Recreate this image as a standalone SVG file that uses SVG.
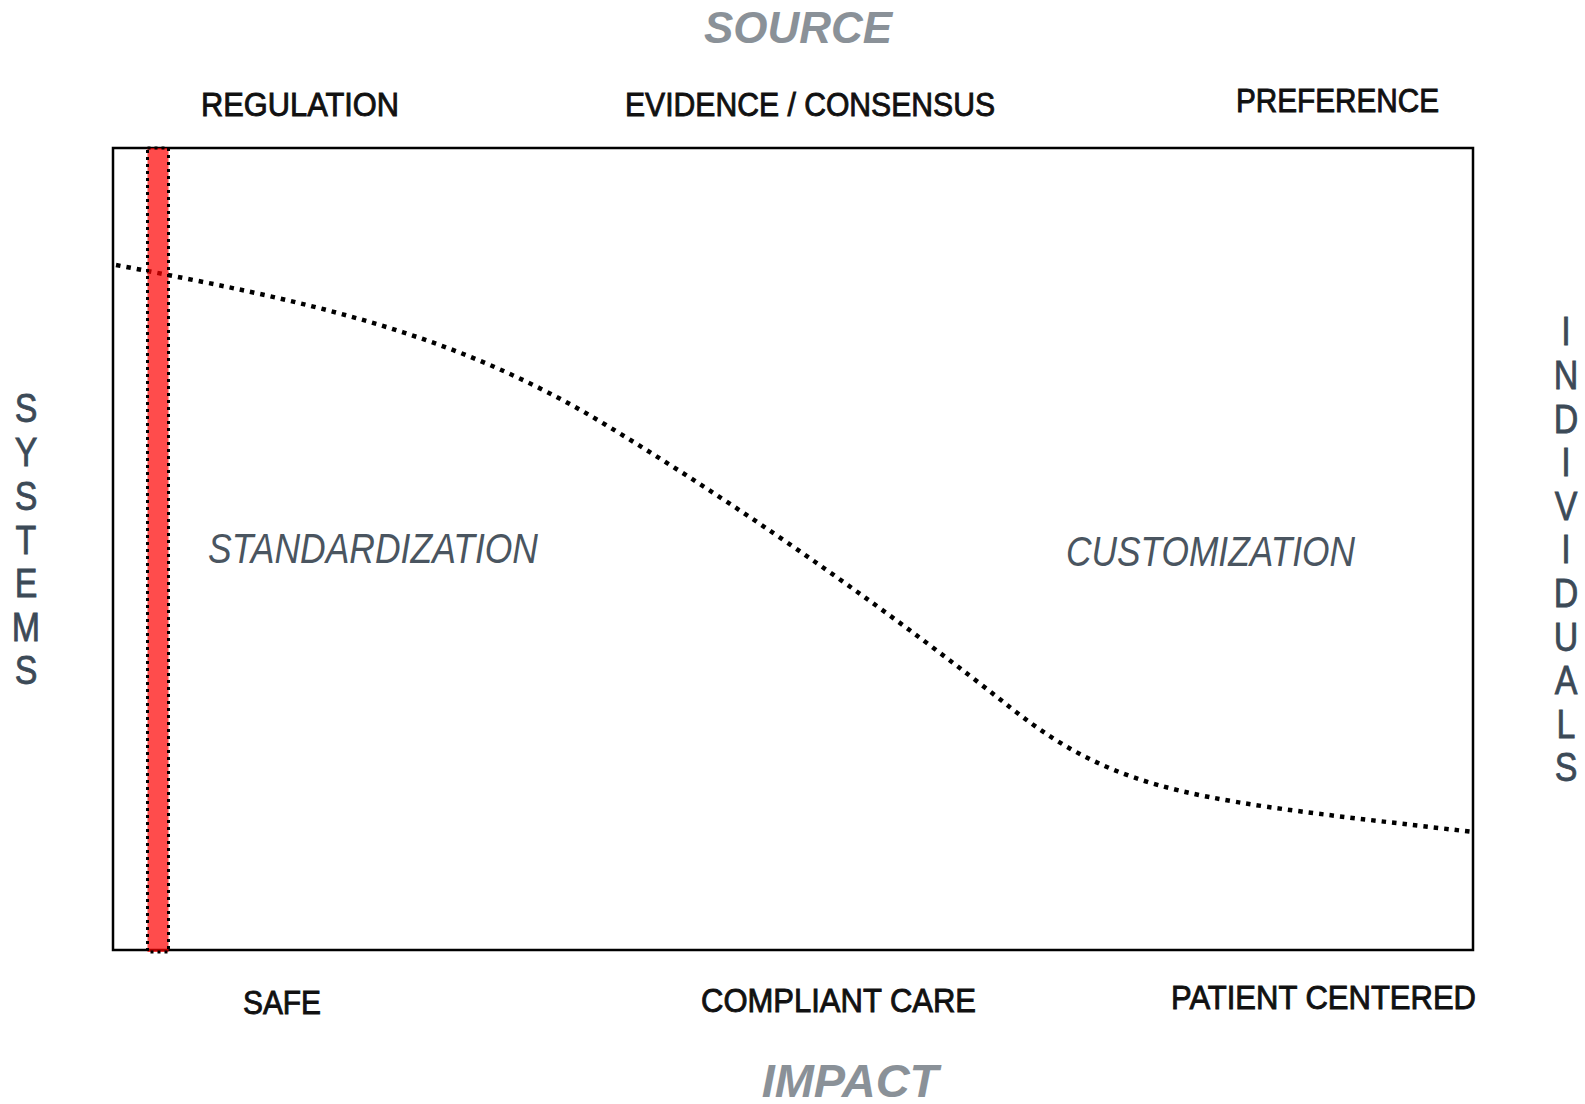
<svg xmlns="http://www.w3.org/2000/svg" width="1585" height="1104" viewBox="0 0 1585 1104">
<style>
.lbl{font-family:"Liberation Sans Narrow","Liberation Sans",Arial,sans-serif;font-size:33px;fill:#111;stroke:#111;stroke-width:0.9px;}
.title{font-family:"Liberation Sans",Arial,sans-serif;font-weight:bold;font-style:italic;fill:#8A9198;text-anchor:middle;}
.zone{font-family:"Liberation Sans Narrow","Liberation Sans",Arial,sans-serif;font-style:italic;font-size:42px;fill:#4A5560;}
.vert{font-family:"Liberation Sans Narrow","Liberation Sans",Arial,sans-serif;font-size:40px;fill:#3C4A57;stroke:#3C4A57;stroke-width:0.8px;text-anchor:middle;}
</style>
<rect width="1585" height="1104" fill="#fff"/>
<g id="frame">
<rect x="113" y="148" width="1360" height="802" fill="none" stroke="#000" stroke-width="2.5"/>
</g>
<g id="connectors">
<path id="curve" d="M116,265 C300,300 450,330 606,425 S900,620 1011,708 S1200,800 1473,832" fill="none" stroke="#000" stroke-width="4.5" stroke-dasharray="4.5 6"/>
</g>
<g id="red-bar">
<rect x="147.5" y="148" width="21" height="804" fill="#FF0000" fill-opacity="0.7"/>
<rect x="147.5" y="148" width="21" height="804" fill="none" stroke="#000" stroke-width="3" stroke-dasharray="3 4"/>
</g>
<g id="source-title"><text class="title" x="798" y="43" font-size="44">SOURCE</text></g>
<g id="impact-title"><text class="title" x="850" y="1097" font-size="47">IMPACT</text></g>
<g id="top-labels">
<text class="lbl" x="201" y="116" textLength="198" lengthAdjust="spacingAndGlyphs">REGULATION</text>
<text class="lbl" x="625" y="116" textLength="370" lengthAdjust="spacingAndGlyphs">EVIDENCE / CONSENSUS</text>
<text class="lbl" x="1236" y="112" textLength="203" lengthAdjust="spacingAndGlyphs">PREFERENCE</text>
</g>
<g id="bottom-labels">
<text class="lbl" x="243" y="1014" textLength="78" lengthAdjust="spacingAndGlyphs">SAFE</text>
<text class="lbl" x="701" y="1012" textLength="275" lengthAdjust="spacingAndGlyphs">COMPLIANT CARE</text>
<text class="lbl" x="1171" y="1009" textLength="305" lengthAdjust="spacingAndGlyphs">PATIENT CENTERED</text>
</g>
<g id="zones">
<text class="zone" x="208" y="563" textLength="330" lengthAdjust="spacingAndGlyphs">STANDARDIZATION</text>
<text class="zone" x="1066" y="566" textLength="289" lengthAdjust="spacingAndGlyphs">CUSTOMIZATION</text>
</g>
<g id="systems" transform="translate(26,0) scale(0.85,1)">
<text class="vert" x="0" y="422">S</text>
<text class="vert" x="0" y="466">Y</text>
<text class="vert" x="0" y="510">S</text>
<text class="vert" x="0" y="554">T</text>
<text class="vert" x="0" y="597">E</text>
<text class="vert" x="0" y="641">M</text>
<text class="vert" x="0" y="684">S</text>
</g>
<g id="individuals" transform="translate(1566,0) scale(0.85,1)">
<text class="vert" x="0" y="345">I</text>
<text class="vert" x="0" y="389">N</text>
<text class="vert" x="0" y="433">D</text>
<text class="vert" x="0" y="476">I</text>
<text class="vert" x="0" y="520">V</text>
<text class="vert" x="0" y="563">I</text>
<text class="vert" x="0" y="607">D</text>
<text class="vert" x="0" y="651">U</text>
<text class="vert" x="0" y="694">A</text>
<text class="vert" x="0" y="738">L</text>
<text class="vert" x="0" y="781">S</text>
</g>
</svg>
